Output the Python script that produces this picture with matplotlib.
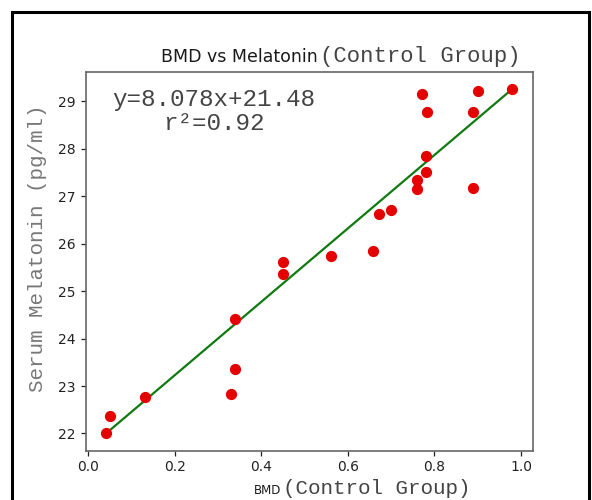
import numpy as np
import matplotlib
matplotlib.use("Agg")
import matplotlib.pyplot as plt
from matplotlib.patches import Rectangle

# data
bmd = [0.041, 0.050, 0.131, 0.330, 0.339, 0.339, 0.450, 0.450, 0.561, 0.659, 0.671,
       0.699, 0.759, 0.759, 0.781, 0.781, 0.783, 0.771, 0.889, 0.889, 0.900, 0.980]
melatonin = [22.00, 22.36, 22.76, 22.84, 23.35, 24.41, 25.62, 25.36, 25.74, 25.84, 26.62,
             26.71, 27.35, 27.16, 27.50, 27.84, 28.77, 29.15, 27.17, 28.77, 29.21, 29.26]
eq_text = "y=8.078x+21.48\nr\u00b2=0.92"

mono = "Liberation Mono"

fig = plt.figure(figsize=(5.92, 5.0), dpi=100)
ax = fig.add_axes([85.7 / 592, 1 - 450.7 / 500, (532.7 - 85.7) / 592, (450.7 - 71.7) / 500])

x = np.array(bmd)
y = np.array(melatonin)
# trend line drawn from the lowest to the highest BMD point
i0, i1 = x.argmin(), x.argmax()
ax.scatter(x, y, s=50, color="#e50000", zorder=3)
ax.plot([x[i0], x[i1]], [y[i0], y[i1]], color="#107a10", lw=1.6, zorder=2)

ax.set_xticks([0.0, 0.2, 0.4, 0.6, 0.8, 1.0])
ax.set_yticks(range(22, 30))
ax.tick_params(labelsize=10, colors="#222222", length=3.5, width=0.9)
for s in ax.spines.values():
    s.set_color("#666666")
    s.set_linewidth(1.2)

ax.text(0.286, 0.958, eq_text, transform=ax.transAxes, ha="center", va="top",
        multialignment="center", family=mono, fontsize=17.5, color="#444444",
        linespacing=1.1)

# title: sans part + mono part
fig.text(318 / 592, 1 - 62 / 500, "BMD vs Melatonin", ha="right", va="baseline",
         fontsize=12.5, color="#1a1a1a")
fig.text(320 / 592, 1 - 62 / 500, "(Control Group)", ha="left", va="baseline",
         family=mono, fontsize=16, color="#444444")

# x label
fig.text(281 / 592, 1 - 494 / 500, "BMD", ha="right", va="baseline",
         fontsize=8.5, color="#1a1a1a")
fig.text(283 / 592, 1 - 494 / 500, "(Control Group)", ha="left", va="baseline",
         family=mono, fontsize=15, color="#444444")

# y label
fig.text(38 / 592, 1 - 248 / 500, "Serum Melatonin (pg/ml)", rotation=90,
         ha="center", va="center", family=mono, fontsize=15, color="#777777")

# outer frame
fig.patches.append(Rectangle((12 / 592, -0.05), (589 - 12) / 592, 1.05 - 12 / 500,
                             transform=fig.transFigure, fill=False,
                             edgecolor="black", lw=2.2))

fig.savefig("out.png", dpi=100)
